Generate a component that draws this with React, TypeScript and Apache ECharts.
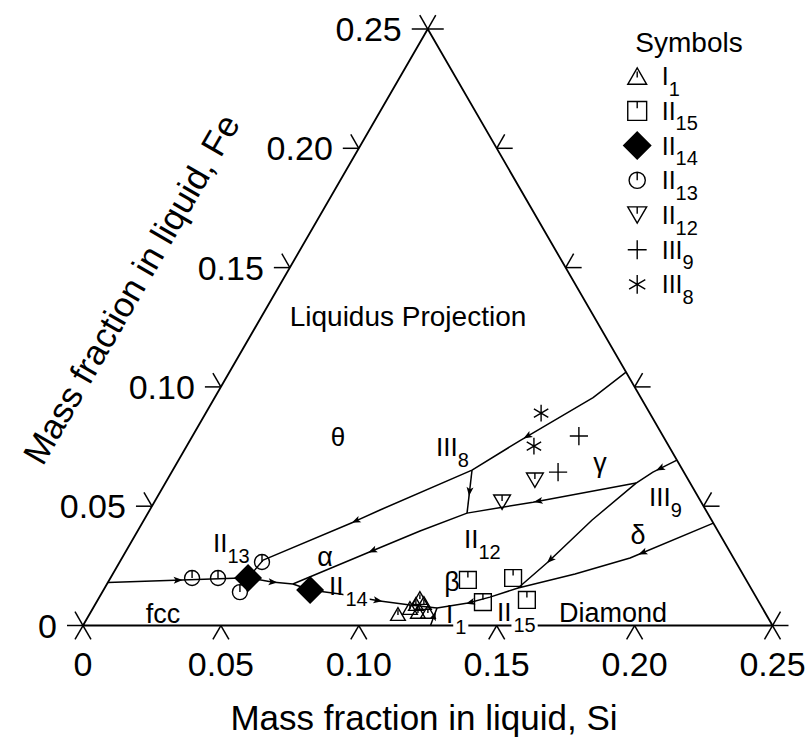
import React, { useEffect, useRef } from 'react';
import * as echarts from 'echarts';

const FONT = "'Liberation Sans', Arial, Helvetica, sans-serif";
const H = Math.sqrt(3) / 2;
const SIDE = 0.25;

// Axis ticks (mass fractions)
const SI_TICKS = [0, 0.05, 0.1, 0.15, 0.2, 0.25];
const SI_TICK_LABELS = ['0', '0.05', '0.10', '0.15', '0.20', '0.25'];
const FE_TICKS = [0, 0.05, 0.1, 0.15, 0.2, 0.25];
const FE_TICK_LABELS = ['0', '0.05', '0.10', '0.15', '0.20', '0.25'];

// Corners of the composition triangle, [Si, Fe]
const TRIANGLE = [[0, 0], [0.25, 0], [0, 0.25], [0, 0]];

// Measured liquid compositions per invariant reaction, [Si, Fe]
const I1_POINTS = [[0.1118, 0.0048], [0.1149, 0.0073], [0.1162, 0.009], [0.1164, 0.0115], [0.1189, 0.0094], [0.1186, 0.0057], [0.1222, 0.0057]];
const II15_POINTS = [[0.13, 0.0191], [0.146, 0.0199], [0.1401, 0.0098], [0.1556, 0.0107]];
const II14_POINTS = [[0.0499, 0.0199], [0.0749, 0.0149]];
const II13_POINTS = [[0.0296, 0.0199], [0.039, 0.0199], [0.0516, 0.0266], [0.0499, 0.014]];
const II12_POINTS = [[0.1334, 0.0609], [0.1261, 0.0517]];
const III9_POINTS = [[0.1401, 0.0794], [0.1401, 0.0643]];
const III8_POINTS = [[0.1216, 0.089], [0.1259, 0.0752]];

// Univariant valleys, each listed in the direction of falling temperature, [Si, Fe]
const CURVE_FCC = [[0, 0.018], [0.05, 0.02], [0.0594, 0.0182], [0.0674, 0.0174], [0.0749, 0.0149], [0.0866, 0.0132], [0.1025, 0.0103], [0.1143, 0.0086], [0.1247, 0.0073]];
const CURVE_THETA_ALPHA = [[0.1438, 0.1062], [0.1372, 0.0955], [0.1197, 0.0775], [0.1085, 0.0651], [0.0835, 0.0484], [0.0763, 0.0433], [0.0516, 0.0274], [0.0499, 0.0199]];
const CURVE_ALPHA_GAMMA = [[0.1807, 0.0693], [0.1745, 0.0643], [0.1707, 0.0597], [0.1373, 0.0517], [0.1157, 0.0471], [0.1024, 0.0396], [0.0878, 0.0304], [0.0674, 0.0174]];
const CURVE_III8_II12 = [[0.1085, 0.0651], [0.1157, 0.0471]];
const CURVE_III9_II15 = [[0.1707, 0.0597], [0.1625, 0.0442], [0.1553, 0.0266], [0.1499, 0.0157]];
const CURVE_DELTA = [[0.2071, 0.0429], [0.1842, 0.0283], [0.1676, 0.0216], [0.1499, 0.0157]];
const CURVE_II15_I1 = [[0.1499, 0.0157], [0.1416, 0.0119], [0.1349, 0.0094], [0.1247, 0.0073]];
const CURVE_EUTECTIC = [[0.126, 0], [0.1247, 0.0073]];

const CURVES = [CURVE_FCC, CURVE_THETA_ALPHA, CURVE_ALPHA_GAMMA, CURVE_III8_II12, CURVE_III9_II15, CURVE_DELTA, CURVE_II15_I1, CURVE_EUTECTIC];

// Direction arrows: [curve index, segment index, fraction along segment]
const ARROWS = [
  [0, 0, 0.5], [0, 2, 0.05], [0, 5, 0.95],
  [1, 1, 0.9], [1, 4, 0.9],
  [2, 0, 0.7], [2, 2, 0.95], [2, 5, 0.9],
  [3, 0, 0.5], [4, 1, 0.95], [5, 0, 0.85], [6, 1, 0.9], [7, 0, 0.55],
];

const SERIES_ORDER = ['I1', 'II15', 'II14', 'II13', 'II12', 'III9', 'III8'];

// ternary (Si, Fe) -> cartesian plane of an equilateral triangle
const tern = (si: number, fe: number) => [si + fe / 2, fe * H];

const BOX = 'M0 0M20 20';
const SYMBOLS: Record<string, string> = {
  I1: `path://${BOX}M3 16L10 3.9L17 16ZM10 6.5L10 11`,
  II15: `path://${BOX}M3 3L17 3L17 17L3 17ZM10 3L10 8`,
  II14: `path://${BOX}M10 0L20 10L10 20L0 10Z`,
  II13: `path://${BOX}M4 10A6 6 0 1 1 16 10A6 6 0 1 1 4 10ZM10 4L10 10`,
  II12: `path://${BOX}M3 4L17 4L10 16ZM10 4L10 9`,
  III9: `path://${BOX}M10 3L10 17M3 10L17 10`,
  III8: `path://${BOX}M10 3L10 17M4 6.5L16 13.5M4 13.5L16 6.5`,
};
const ARROW_SYMBOL = 'path://M5 0L10 13L5 10L0 13Z';

const RICH = {
  m: { fontSize: 26, fontFamily: FONT, color: '#000', padding: [10, 0, 0, 0], verticalAlign: 'top' },
  s: { fontSize: 20, fontFamily: FONT, color: '#000', lineHeight: 46, verticalAlign: 'bottom' },
  sb: { fontSize: 20, fontFamily: FONT, color: '#000', lineHeight: 46, verticalAlign: 'bottom', backgroundColor: '#fff', padding: [0, 2, 0, 2] },
};

const splitName = (name: string) => {
  const m = name.match(/^(I+)(\d+)$/);
  return m ? [m[1], m[2]] : [name, ''];
};

const plain = (text: string, x: number, y: number, size: number, extra: any = {}) => ({
  type: 'text', x, y, z: 10, silent: true,
  style: { text, fontSize: size, fontFamily: FONT, fill: '#000', textAlign: 'center', textVerticalAlign: 'middle', ...extra },
});

const phase = (name: string, x: number, y: number, masked = false) => {
  const [r, s] = splitName(name);
  return {
    type: 'text', x, y, z: 10, silent: true,
    style: {
      text: `{m|${r}}{${masked ? 'sb' : 's'}|${s}}`,
      rich: RICH, fill: '#000', fontFamily: FONT, fontSize: 26,
      textAlign: 'left', textVerticalAlign: 'middle',
    },
  };
};

const ARM = 16;
const tickSeries = (edge: 'left' | 'bottom' | 'right', values: number[], labels: string[] | null) => ({
  type: 'custom',
  coordinateSystem: 'cartesian2d',
  silent: true,
  clip: false,
  z: 3,
  data: values.map((v) => {
    const [si, fe] = edge === 'bottom' ? [v, 0] : edge === 'left' ? [0, v] : [SIDE - v, v];
    return tern(si, fe);
  }),
  renderItem: (params: any, api: any) => {
    const [x, y] = api.coord([api.value(0), api.value(1)]);
    const dirs = edge === 'bottom' ? [240, 300] : edge === 'left' ? [180, 120] : [0, 60];
    const children: any[] = dirs.map((d) => ({
      type: 'line',
      shape: { x1: x, y1: y, x2: x + ARM * Math.cos((d * Math.PI) / 180), y2: y - ARM * Math.sin((d * Math.PI) / 180) },
      style: { stroke: '#000', lineWidth: 1.5 },
    }));
    const label = labels ? labels[params.dataIndex] : null;
    if (label) {
      children.push({
        type: 'text',
        x: edge === 'left' ? x - 26 : x,
        y: edge === 'left' ? y : y + 38,
        style: {
          text: label, fontSize: 34, fontFamily: FONT, fill: '#000',
          textAlign: edge === 'left' ? 'right' : 'center', textVerticalAlign: 'middle',
        },
      });
    }
    return { type: 'group', children };
  },
});

const curveSeries = (pts: number[][], width = 1.5) => ({
  type: 'line',
  data: pts.map((p) => tern(p[0], p[1])),
  symbol: 'none',
  clip: false,
  silent: true,
  lineStyle: { color: '#000', width },
  z: 2,
});

const POINT_STYLE: Record<string, { data: number[][]; size: number; fill: string }> = {
  I1: { data: I1_POINTS, size: 21, fill: 'rgba(0,0,0,0)' },
  II15: { data: II15_POINTS, size: 24, fill: 'rgba(0,0,0,0)' },
  II14: { data: II14_POINTS, size: 26, fill: '#000' },
  II13: { data: II13_POINTS, size: 25, fill: 'rgba(0,0,0,0)' },
  II12: { data: II12_POINTS, size: 24, fill: 'rgba(0,0,0,0)' },
  III9: { data: III9_POINTS, size: 26, fill: 'rgba(0,0,0,0)' },
  III8: { data: III8_POINTS, size: 24, fill: 'rgba(0,0,0,0)' },
};

const pointSeries = SERIES_ORDER.map((name) => ({
  type: 'scatter',
  name,
  data: POINT_STYLE[name].data.map((p) => tern(p[0], p[1])),
  symbol: SYMBOLS[name],
  symbolSize: POINT_STYLE[name].size,
  itemStyle: { color: POINT_STYLE[name].fill, borderColor: '#000', borderWidth: 1.4, opacity: 1 },
  clip: false,
  silent: true,
  z: 5,
}));

const arrowData = ARROWS.map(([c, s, t]) => {
  const a = tern(CURVES[c][s][0], CURVES[c][s][1]);
  const b = tern(CURVES[c][s + 1][0], CURVES[c][s + 1][1]);
  const pos = [a[0] + (b[0] - a[0]) * t, a[1] + (b[1] - a[1]) * t];
  const ang = (Math.atan2(b[1] - a[1], b[0] - a[0]) * 180) / Math.PI - 90;
  return { value: pos, symbolRotate: ang };
});

const option: any = {
  backgroundColor: '#fff',
  animation: false,
  grid: { left: 83, right: 34.5, top: 29, bottom: 111.5 },
  xAxis: { type: 'value', min: 0, max: SIDE, show: false },
  yAxis: { type: 'value', min: 0, max: SIDE * H, show: false },
  legend: {
    data: SERIES_ORDER,
    orient: 'vertical',
    left: 618,
    top: 57,
    itemWidth: 27,
    itemHeight: 27,
    itemGap: -2,
    selectedMode: false,
    itemStyle: { borderWidth: 1.4, borderColor: '#000' },
    formatter: (name: string) => {
      const [r, s] = splitName(name);
      return `{m|${r}}{s|${s}}`;
    },
    textStyle: {
      color: '#000',
      fontFamily: FONT,
      fontSize: 24,
      rich: {
        m: { fontSize: 25, fontFamily: FONT, color: '#000', padding: [10, 0, 0, 6], verticalAlign: 'top' },
        s: { fontSize: 20, fontFamily: FONT, color: '#000', lineHeight: 45, verticalAlign: 'bottom' },
      },
    },
  },
  graphic: [
    plain('Symbols', 689, 42, 28),
    plain('Mass fraction in liquid, Si', 424, 717, 35),
    { ...plain('Mass fraction in liquid, Fe', 131, 289, 35), rotation: Math.PI / 3 },
    plain('Liquidus Projection', 408, 316, 28),
    plain('θ', 338, 437, 26),
    plain('α', 325, 557, 27),
    plain('γ', 600, 463, 27),
    plain('δ', 638, 535, 27),
    plain('β', 452, 582, 27),
    plain('fcc', 163, 614, 27),
    plain('Diamond', 613, 613, 27),
    phase('III8', 436, 447),
    phase('III9', 649, 497),
    phase('II12', 464, 539),
    phase('II13', 213, 543),
    phase('II14', 329, 586, true),
    phase('I1', 446, 614, true),
    phase('II15', 497, 612, true),
  ],
  series: [
    curveSeries(TRIANGLE, 1.8),
    tickSeries('left', FE_TICKS, FE_TICK_LABELS),
    tickSeries('bottom', SI_TICKS, SI_TICK_LABELS),
    tickSeries('right', FE_TICKS, null),
    ...CURVES.map((c) => curveSeries(c)),
    {
      type: 'scatter',
      data: arrowData,
      symbol: ARROW_SYMBOL,
      symbolSize: [7, 9],
      itemStyle: { color: '#000', opacity: 1 },
      clip: false,
      silent: true,
      z: 4,
    },
    ...pointSeries,
  ],
};

export default function App() {
  const ref = useRef<HTMLDivElement>(null);
  useEffect(() => {
    if (!ref.current) return;
    const chart = echarts.init(ref.current, undefined, { renderer: 'svg' });
    chart.setOption(option);
    return () => chart.dispose();
  }, []);
  return (
    <div
      ref={ref}
      style={{ position: 'absolute', left: 0, top: 0, width: 807, height: 737, background: '#fff' }}
    />
  );
}
